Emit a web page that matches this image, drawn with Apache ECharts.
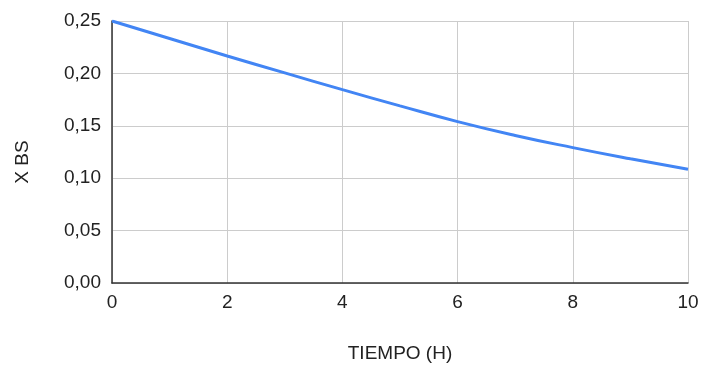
<!DOCTYPE html>
<html>
<head>
<meta charset="utf-8">
<script src="https://cdn.jsdelivr.net/npm/echarts@6/dist/echarts.min.js"></script>
<style>html,body{margin:0;padding:0;background:#fff}#c{width:702px;height:365px}</style>
</head>
<body>
<div id="c"></div>
<script>
var tiempo = [0, 1, 2, 3, 4, 5, 6, 7, 8, 9, 10];
var xbs = [0.250, 0.2333, 0.2166, 0.2005, 0.1845, 0.1690, 0.1540, 0.1408, 0.1292, 0.1185, 0.1085];
var xTitle = 'TIEMPO (H)';
var yTitle = 'X BS';

var chart = echarts.init(document.getElementById('c'));
var font = 'Liberation Sans, Arial, sans-serif';
chart.setOption({
  animation: false,
  grid: { left: 112, right: 14, top: 21, bottom: 82, containLabel: false, outerBoundsMode: 'none' },
  xAxis: {
    type: 'value', min: 0, max: 10, interval: 2,
    name: xTitle, nameLocation: 'middle', nameGap: 61,
    nameTextStyle: { fontFamily: font, fontSize: 19, color: '#222' },
    axisLine: { show: true, onZero: false, lineStyle: { color: '#333', width: 1.5 } },
    axisTick: { show: false },
    axisLabel: { fontFamily: font, fontSize: 19, color: '#222', margin: 10 },
    splitLine: { show: true, lineStyle: { color: '#ccc', width: 1 } }
  },
  yAxis: {
    type: 'value', min: 0, max: 0.25, interval: 0.05,
    name: yTitle, nameLocation: 'middle', nameGap: 80, nameRotate: 90,
    nameTextStyle: { fontFamily: font, fontSize: 19, color: '#222', padding: [0, 20, 0, 0] },
    axisLine: { show: true, lineStyle: { color: '#333', width: 1.5 } },
    axisTick: { show: false },
    axisLabel: { fontFamily: font, fontSize: 19, color: '#222', margin: 11,
      formatter: function (v) { return v.toFixed(2).replace('.', ','); } },
    splitLine: { show: true, lineStyle: { color: '#ccc', width: 1 } }
  },
  series: [{
    type: 'line', smooth: true, showSymbol: false,
    data: tiempo.map(function (t, i) { return [t, xbs[i]]; }),
    lineStyle: { color: '#4285F4', width: 3 },
    itemStyle: { color: '#4285F4' }
  }]
});
</script>
</body>
</html>
